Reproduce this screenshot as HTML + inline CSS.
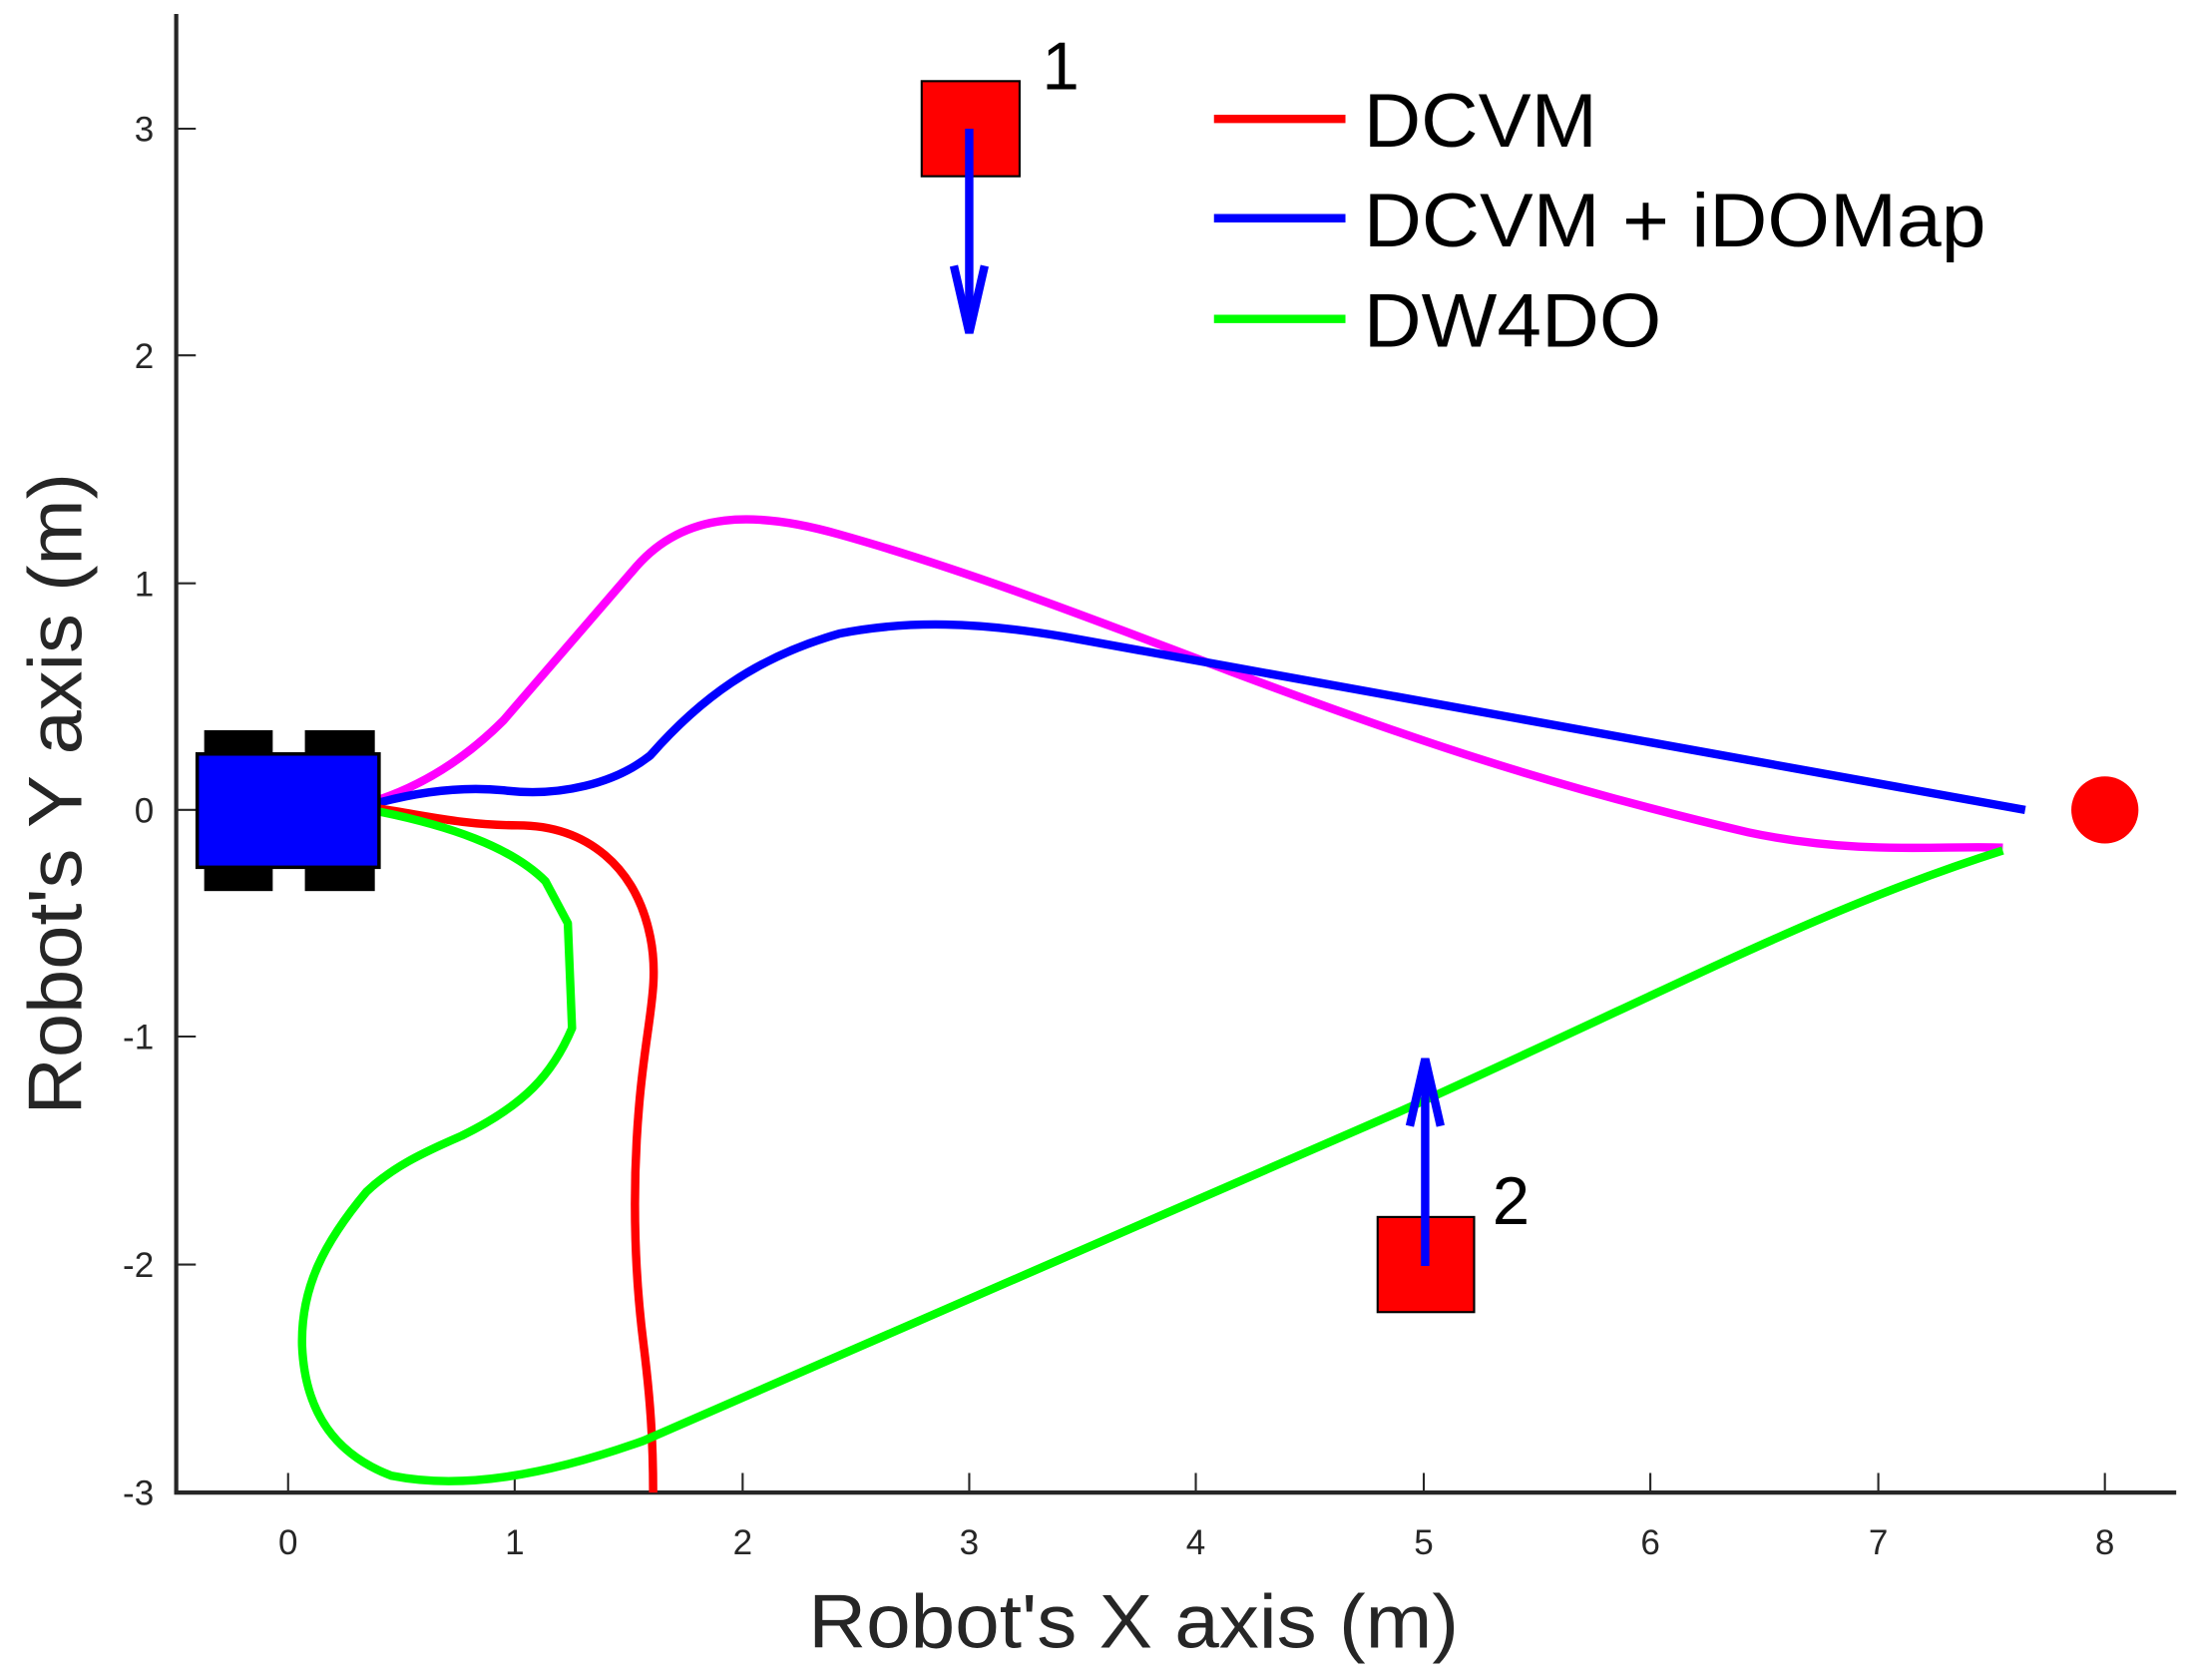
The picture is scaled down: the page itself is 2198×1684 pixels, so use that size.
<!DOCTYPE html>
<html><head><meta charset="utf-8"><style>
html,body{margin:0;padding:0;background:#fff;}
svg{display:block;}
text{font-family:"Liberation Sans",Arial,sans-serif;fill:#262626;}
</style></head><body>
<svg width="2198" height="1684" viewBox="0 0 1568 1201" preserveAspectRatio="none" xmlns="http://www.w3.org/2000/svg">
<rect width="1568" height="1201" fill="#fff"/>
<g stroke="#262626" stroke-width="3" fill="none">
<line x1="126" y1="10" x2="126" y2="1067"/>
<line x1="124.5" y1="1067" x2="1556" y2="1067"/>
</g>
<g stroke="#262626" stroke-width="1.5">
<line x1="126" y1="92" x2="140" y2="92"/>
<line x1="126" y1="254" x2="140" y2="254"/>
<line x1="126" y1="417" x2="140" y2="417"/>
<line x1="126" y1="579" x2="140" y2="579"/>
<line x1="126" y1="741" x2="140" y2="741"/>
<line x1="126" y1="904" x2="140" y2="904"/>
<line x1="206" y1="1067" x2="206" y2="1053"/>
<line x1="368" y1="1067" x2="368" y2="1053"/>
<line x1="531" y1="1067" x2="531" y2="1053"/>
<line x1="693" y1="1067" x2="693" y2="1053"/>
<line x1="855" y1="1067" x2="855" y2="1053"/>
<line x1="1018" y1="1067" x2="1018" y2="1053"/>
<line x1="1180" y1="1067" x2="1180" y2="1053"/>
<line x1="1343" y1="1067" x2="1343" y2="1053"/>
<line x1="1505" y1="1067" x2="1505" y2="1053"/>
</g>
<g font-size="25" text-anchor="end">
<text x="110" y="101">3</text>
<text x="110" y="263">2</text>
<text x="110" y="426">1</text>
<text x="110" y="588">0</text>
<text x="110" y="750">-1</text>
<text x="110" y="913">-2</text>
<text x="110" y="1076">-3</text>
</g>
<g font-size="25" text-anchor="middle">
<text x="206" y="1111">0</text>
<text x="368" y="1111">1</text>
<text x="531" y="1111">2</text>
<text x="693" y="1111">3</text>
<text x="855" y="1111">4</text>
<text x="1018" y="1111">5</text>
<text x="1180" y="1111">6</text>
<text x="1343" y="1111">7</text>
<text x="1505" y="1111">8</text>
</g>
<text x="578" y="1178" font-size="54" textLength="465" lengthAdjust="spacingAndGlyphs">Robot's X axis (m)</text>
<text transform="translate(58,797) rotate(-90)" font-size="54" textLength="459" lengthAdjust="spacingAndGlyphs">Robot's Y axis (m)</text>

<g fill="none" stroke-width="6" stroke-linejoin="round" stroke-linecap="butt">
<path stroke="#ff00ff" d="M270,572 C300,562 330,545 360,515 C390,480 420,445 455,405 C490,365 540,365 600,382 C700,410 800,450 880,480 C1000,525 1100,560 1250,595 C1330,612 1390,604 1432,606"/>
<path stroke="#0000ff" d="M270,574 C300,566 330,562 360,565 C400,570 440,560 465,540 C500,500 540,470 600,453 C650,443 700,445 760,455 C1000,498 1250,545 1448,579"/>
<path stroke="#ff0000" d="M270,578 C300,582 330,590 370,590 C420,590 455,620 465,670 C472,705 462,730 457,790 C451,860 455,920 460,960 C465,1000 467,1030 467,1067"/>
<path stroke="#00ff00" d="M270,580 C320,590 365,605 390,630 L406,660 L409,735 C395,768 375,790 330,812 C300,825 280,835 262,852 C232,888 215,920 216,962 C218,1010 240,1040 280,1055 C330,1065 390,1055 460,1030 L1000,795 C1200,705 1300,650 1432,608"/>
</g>

<g fill="#000">
<rect x="146" y="522" width="49" height="17"/>
<rect x="218" y="522" width="50" height="17"/>
<rect x="146" y="619" width="49" height="18"/>
<rect x="218" y="619" width="50" height="18"/>
</g>
<rect x="141" y="539" width="130" height="81" fill="#0000ff" stroke="#000" stroke-width="2.5"/>

<circle cx="1505" cy="579" r="24" fill="#ff0000"/>

<rect x="659" y="58" width="70" height="68" fill="#ff0000" stroke="#000" stroke-width="1.5"/>
<rect x="985" y="870" width="69" height="68" fill="#ff0000" stroke="#000" stroke-width="1.5"/>
<g stroke="#0000ff" stroke-width="6" fill="none">
<line x1="693" y1="92" x2="693" y2="235"/>
<polyline points="682,190 693,238 704,190"/>
<line x1="1019" y1="905" x2="1019" y2="760"/>
<polyline points="1008,805 1019,757 1030,805"/>
</g>
<text x="745" y="64" font-size="48" style="fill:#000">1</text>
<text x="1067" y="875" font-size="48" style="fill:#000">2</text>

<g stroke-width="6">
<line x1="868" y1="85" x2="962" y2="85" stroke="#ff0000"/>
<line x1="868" y1="156" x2="962" y2="156" stroke="#0000ff"/>
<line x1="868" y1="228" x2="962" y2="228" stroke="#00ff00"/>
</g>
<g font-size="54">
<text x="975" y="105" style="fill:#000" textLength="167" lengthAdjust="spacingAndGlyphs">DCVM</text>
<text x="975" y="176" style="fill:#000" textLength="445" lengthAdjust="spacingAndGlyphs">DCVM + iDOMap</text>
<text x="975" y="248" style="fill:#000" textLength="213" lengthAdjust="spacingAndGlyphs">DW4DO</text>
</g>
</svg>
</body></html>
